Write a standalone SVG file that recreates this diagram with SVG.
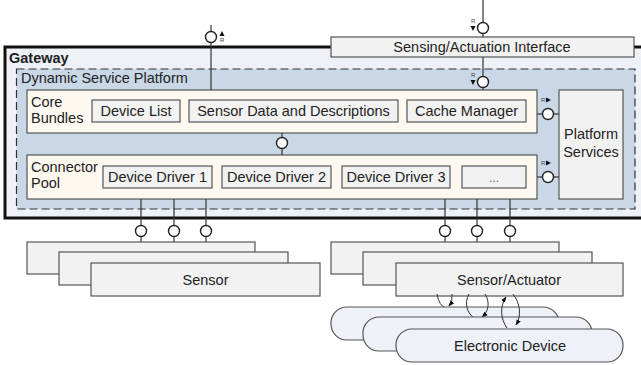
<svg xmlns="http://www.w3.org/2000/svg" width="641" height="365" viewBox="0 0 641 365">
<defs>
<style>
text{font-family:"Liberation Sans",Arial,sans-serif;font-size:14.5px;fill:#222}
.box{fill:#f2f2f2;stroke:#555;stroke-width:1.2}
.cream{fill:#fdf9f1;stroke:#555;stroke-width:1.2}
.ed{fill:#eef1f7;stroke:#555;stroke-width:1.2}
.ln{stroke:#333;stroke-width:1.2;fill:none}
.ring{fill:#fff;stroke:#222;stroke-width:1.4}
.tri{fill:#111}
.r{font-size:6px;fill:#444}
.arc{stroke:#333;stroke-width:1;fill:none}
.c{text-anchor:middle}
</style>
<marker id="ah" viewBox="0 0 10 10" refX="9" refY="5" markerWidth="6" markerHeight="6" orient="auto-start-reverse" markerUnits="userSpaceOnUse">
<path d="M0,1 L10,5 L0,9 z" fill="#111"/>
</marker>
</defs>
<rect width="641" height="365" fill="#fff"/>

<g id="gateway">
<rect x="5" y="47" width="640" height="171" fill="#eef1f6" stroke="#111" stroke-width="3"/>
<text x="9" y="63" style="font-weight:bold">Gateway</text>
</g>

<g id="dsp">
<rect x="16.5" y="69" width="618.5" height="140" fill="#c9d7e7" stroke="#333" stroke-width="1.2" stroke-dasharray="8,4"/>
<text x="21" y="83">Dynamic Service Platform</text>
</g>

<g id="core-bundles">
<rect class="cream" x="27" y="90" width="510" height="43"/>
<text x="31" y="107">Core</text>
<text x="31" y="123">Bundles</text>
</g>
<g id="device-list"><rect class="box" x="92" y="100" width="88" height="22"/><text class="c" x="136" y="116">Device List</text></g>
<g id="sensor-data"><rect class="box" x="189" y="100" width="209" height="22"/><text class="c" x="293.5" y="116">Sensor Data and Descriptions</text></g>
<g id="cache-manager"><rect class="box" x="407" y="100" width="119" height="22"/><text class="c" x="466.5" y="116">Cache Manager</text></g>

<g id="connector-pool">
<rect class="cream" x="27" y="155" width="510" height="44"/>
<text x="31" y="172">Connector</text>
<text x="31" y="188">Pool</text>
</g>
<g id="driver1"><rect class="box" x="103" y="166" width="109" height="22"/><text class="c" x="157.5" y="182">Device Driver 1</text></g>
<g id="driver2"><rect class="box" x="222" y="166" width="109" height="22"/><text class="c" x="276.5" y="182">Device Driver 2</text></g>
<g id="driver3"><rect class="box" x="342" y="166" width="108" height="22"/><text class="c" x="396" y="182">Device Driver 3</text></g>
<g id="driver-more"><rect class="box" x="462" y="166" width="64" height="22"/><text class="c" x="494" y="182" style="font-size:12px;fill:#666">...</text></g>

<g id="platform-services">
<rect class="box" x="559" y="90" width="64" height="109"/>
<text class="c" x="591" y="139">Platform</text>
<text class="c" x="591" y="157">Services</text>
</g>

<g id="sensing-interface">
<rect class="box" x="331" y="37" width="303" height="20"/>
<text class="c" x="482" y="52">Sensing/Actuation Interface</text>
</g>

<g id="connectors">
<line class="ln" x1="211" y1="25" x2="211" y2="90"/>
<circle class="ring" cx="211" cy="37" r="5.5"/>
<polygon class="tri" points="219.5,36 222,31 224.5,36"/>
<text class="r" x="220" y="42">R</text>

<line class="ln" x1="483" y1="0" x2="483" y2="37"/>
<circle class="ring" cx="483" cy="28" r="5.5"/>
<text class="r" x="471" y="23">R</text>
<polygon class="tri" points="470.5,26 475.5,26 473,31"/>

<line class="ln" x1="483" y1="57" x2="483" y2="90"/>
<circle class="ring" cx="483" cy="82" r="5.5"/>
<text class="r" x="471" y="77">R</text>
<polygon class="tri" points="470.5,80 475.5,80 473,85"/>

<line class="ln" x1="282" y1="133" x2="282" y2="155"/>
<circle class="ring" cx="282" cy="143" r="5.5"/>

<line class="ln" x1="537" y1="114" x2="559" y2="114"/>
<circle class="ring" cx="548" cy="114" r="5.5"/>
<text class="r" x="541" y="102">R</text>
<polygon class="tri" points="546,97.5 551,100 546,102.5"/>

<line class="ln" x1="537" y1="177" x2="559" y2="177"/>
<circle class="ring" cx="548" cy="177" r="5.5"/>
<text class="r" x="541" y="165">R</text>
<polygon class="tri" points="546,160.5 551,163 546,165.5"/>

<line class="ln" x1="141" y1="199" x2="141" y2="242"/>
<line class="ln" x1="174" y1="199" x2="174" y2="252"/>
<line class="ln" x1="206" y1="199" x2="206" y2="263"/>
<line class="ln" x1="445" y1="199" x2="445" y2="242"/>
<line class="ln" x1="477" y1="199" x2="477" y2="252"/>
<line class="ln" x1="510" y1="199" x2="510" y2="263"/>
<circle class="ring" cx="141" cy="231" r="5.5"/>
<circle class="ring" cx="174" cy="231" r="5.5"/>
<circle class="ring" cx="206" cy="231" r="5.5"/>
<circle class="ring" cx="445" cy="231" r="5.5"/>
<circle class="ring" cx="477" cy="231" r="5.5"/>
<circle class="ring" cx="510" cy="231" r="5.5"/>
</g>

<g id="sensor1"><rect class="box" x="27" y="242" width="228" height="32"/></g>
<g id="sensor2"><rect class="box" x="59" y="252" width="229" height="33"/></g>
<g id="sensor3"><rect class="box" x="91" y="263" width="229" height="33"/><text class="c" x="205.5" y="284.5">Sensor</text></g>

<g id="sa1"><rect class="box" x="331" y="242" width="228" height="32"/></g>
<g id="sa2"><rect class="box" x="363" y="252" width="229" height="33"/></g>
<g id="sa3"><rect class="box" x="396" y="263" width="227" height="33"/><text class="c" x="509" y="284.5">Sensor/Actuator</text></g>

<g id="arcs1">
<path class="arc" d="M437,294 Q439,306 446,308"/>
<path class="arc" d="M452,294 Q453,301 449,306" marker-end="url(#ah)"/>
</g>
<g id="ed1"><rect class="ed" x="331" y="307" width="228" height="33" rx="16"/></g>
<g id="arcs2">
<path class="arc" d="M469,294 C464,303 467,313 474,318"/>
<path class="arc" d="M485,294 C490,302 489,311 482,317" marker-end="url(#ah)"/>
</g>
<g id="ed2"><rect class="ed" x="363" y="317" width="229" height="34" rx="16"/></g>
<g id="arcs3">
<path class="arc" d="M507,328 C500,318 500,306 506,297" marker-end="url(#ah)"/>
<path class="arc" d="M513,294 C520,303 522,315 516,325" marker-end="url(#ah)"/>
</g>
<g id="ed3"><rect class="ed" x="396" y="329" width="227" height="33" rx="16"/><text class="c" x="510" y="351">Electronic Device</text></g>
</svg>
